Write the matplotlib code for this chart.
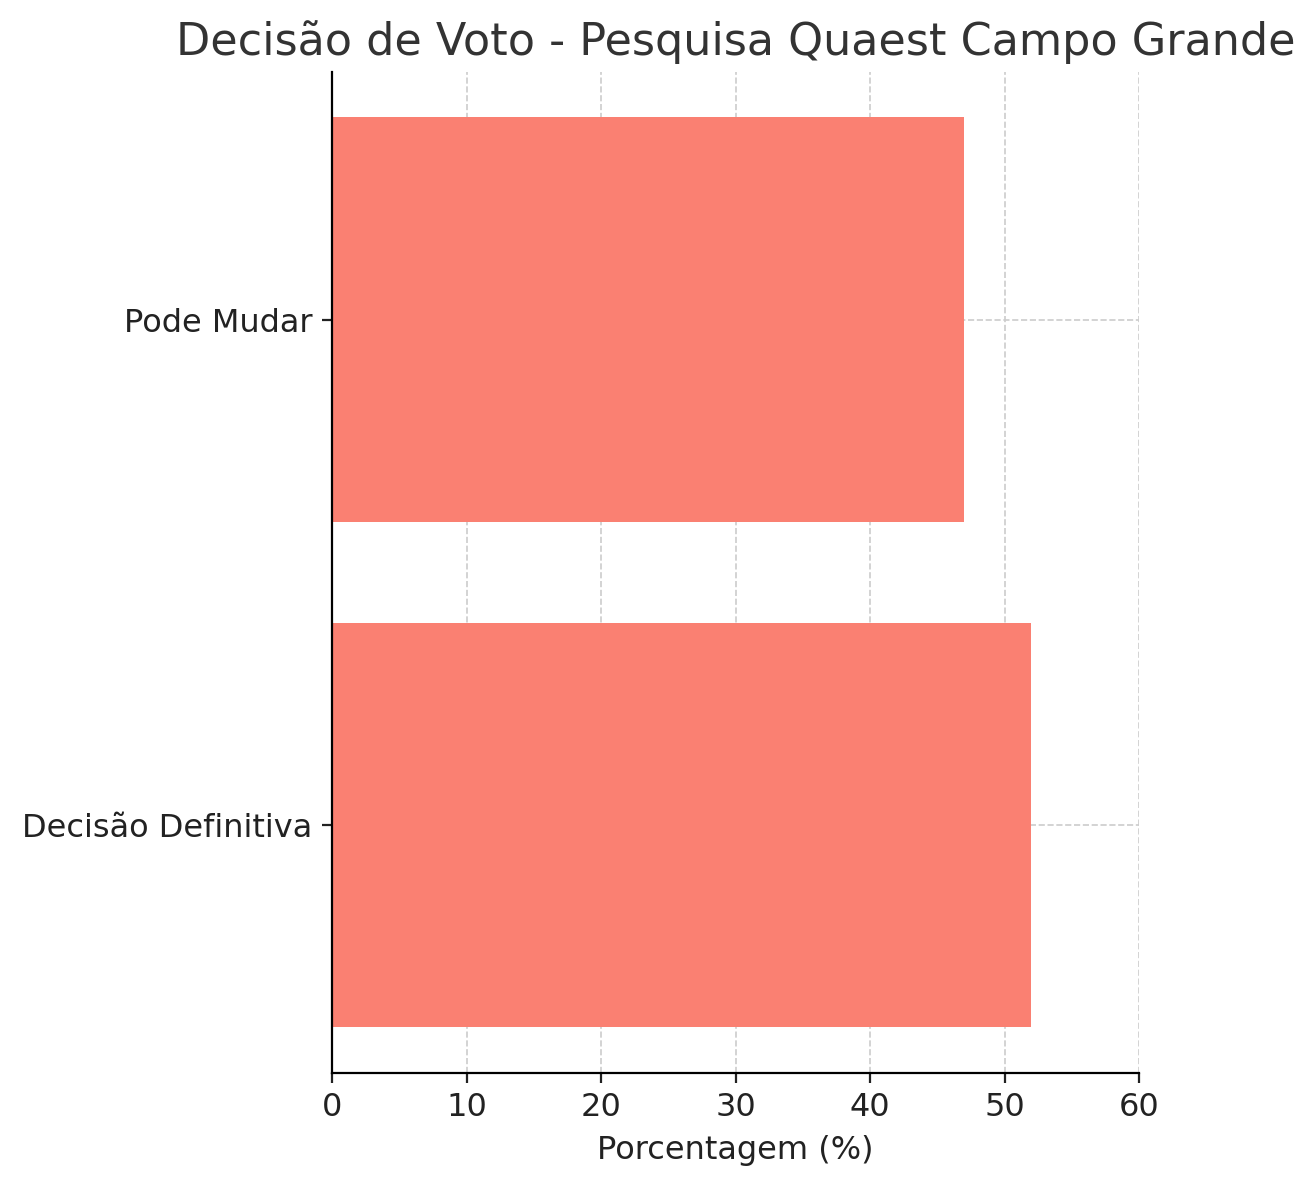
import matplotlib
matplotlib.use("Agg")
import matplotlib.pyplot as plt

categories = ["Decisão Definitiva", "Pode Mudar"]
values = [52, 47]

fig = plt.figure(figsize=(6.575, 5.9), dpi=200)
ax = fig.add_axes([0.2525, 0.0907, 0.6137, 0.8483])
ax.barh(categories, values, color="#FA8072", zorder=2)
ax.set_xlim(0, 60)
ax.set_xticks(range(0, 61, 10))
ax.grid(True, linestyle="--", color="#cccccc", linewidth=0.6, zorder=0)
for s in ["top", "right"]:
    ax.spines[s].set_visible(False)
ax.tick_params(labelsize=11.5, colors="#222222")
ax.set_xlabel("Porcentagem (%)", fontsize=11.5, color="#222222")
ax.set_title("Decisão de Voto - Pesquisa Quaest Campo Grande", fontsize=16, color="#333333")
fig.savefig("out.png", dpi=200)
